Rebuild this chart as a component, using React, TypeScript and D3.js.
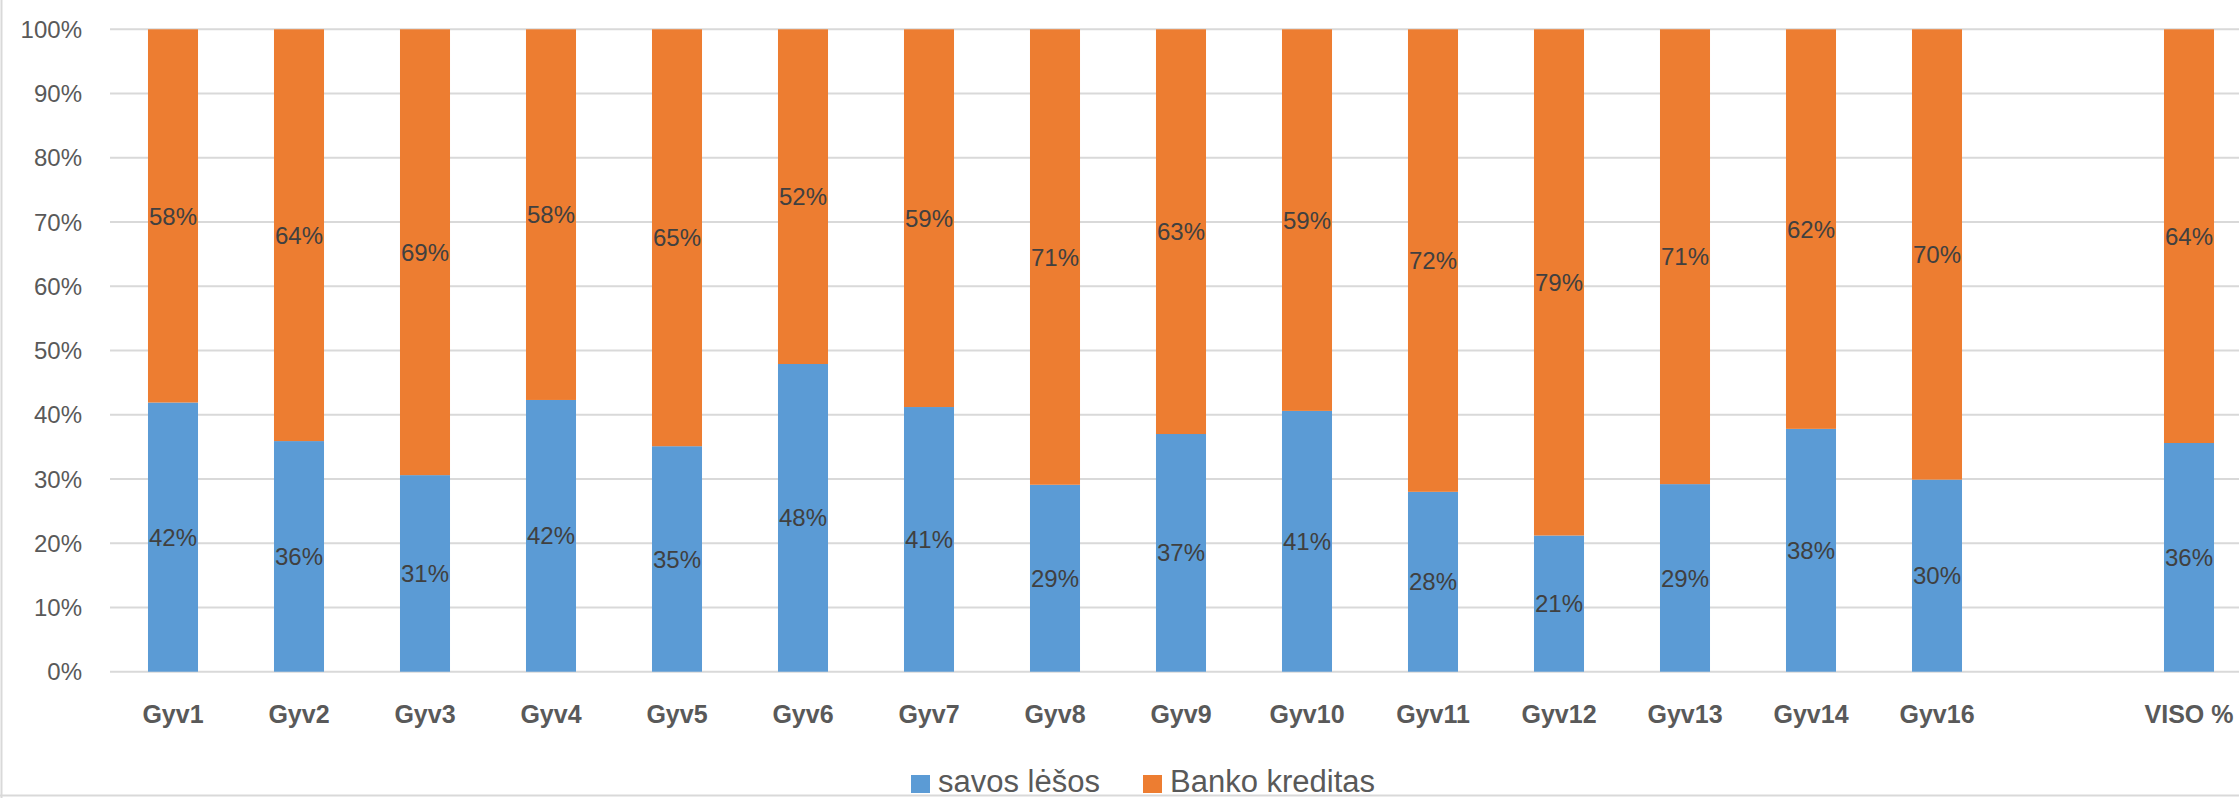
import * as React from "react";
import * as d3 from "d3";

// categories (one empty slot before the total, as in the original sheet)
const categories = [
  "Gyv1", "Gyv2", "Gyv3", "Gyv4", "Gyv5", "Gyv6", "Gyv7", "Gyv8", "Gyv9",
  "Gyv10", "Gyv11", "Gyv12", "Gyv13", "Gyv14", "Gyv16", "", "VISO %",
];
// own funds, %
const savosLesos = [
  41.9, 35.9, 30.6, 42.3, 35.1, 47.9, 41.2, 29.1, 37.0,
  40.6, 28.0, 21.2, 29.2, 37.8, 29.9, null, 35.6,
];
// bank credit, %
const bankoKreditas = [
  58.1, 64.1, 69.4, 57.7, 64.9, 52.1, 58.8, 70.9, 63.0,
  59.4, 72.0, 78.8, 70.8, 62.2, 70.1, null, 64.4,
];
const yTicks = [0, 10, 20, 30, 40, 50, 60, 70, 80, 90, 100];

const seriesNames = ["savos lėšos", "Banko kreditas"];
const colors = ["#5B9BD5", "#ED7D31"];

const W = 2239;
const H = 798;
const FONT = "'Liberation Sans', Arial, sans-serif";

export default function App() {
  const x = d3
    .scaleBand<string>()
    .domain(categories.map((c, i) => c || `_${i}`))
    .range([110, 2252])
    .paddingInner(0.603)
    .paddingOuter(0.3015);
  const y = d3.scaleLinear().domain([0, 100]).range([671.7, 29.3]);

  const rows = categories.map((c, i) => ({
    key: c || `_${i}`,
    savos: savosLesos[i],
    banko: bankoKreditas[i],
  }));
  const stack = d3
    .stack<any>()
    .keys(["savos", "banko"])
    .value((d, k) => d[k] ?? 0);
  const series = stack(rows);

  return (
    <svg
      width={W}
      height={H}
      style={{ position: "absolute", left: 0, top: 0, display: "block", background: "#fff" }}
      fontFamily={FONT}
    >
      <rect x={0} y={0} width={W} height={H} fill="#fff" />
      {/* chart border (left and bottom visible) */}
      <line x1={1.5} x2={1.5} y1={0} y2={H} stroke="#d9d9d9" strokeWidth={2} />
      <line x1={0} x2={W} y1={795.5} y2={795.5} stroke="#d9d9d9" strokeWidth={2} />

      {/* gridlines and y ticks */}
      {yTicks.map((t) => (
        <g key={t}>
          <line x1={110} x2={W} y1={y(t)} y2={y(t)} stroke="#d9d9d9" strokeWidth={2} />
          <text
            x={82}
            y={y(t)}
            dy="0.36em"
            textAnchor="end"
            fontSize={24}
            fill="#595959"
          >
            {t}%
          </text>
        </g>
      ))}

      {/* bars */}
      {series.map((s, si) => (
        <g key={s.key} fill={colors[si]}>
          {s.map((d, i) =>
            rows[i].savos == null ? null : (
              <rect
                key={i}
                x={x(rows[i].key)}
                y={y(d[1])}
                width={x.bandwidth()}
                height={y(d[0]) - y(d[1])}
              />
            )
          )}
        </g>
      ))}

      {/* data labels */}
      {series.map((s) => (
        <g key={"l" + s.key}>
          {s.map((d, i) => {
            const v = (rows[i] as any)[s.key];
            if (v == null) return null;
            return (
              <text
                key={i}
                x={(x(rows[i].key) as number) + x.bandwidth() / 2}
                y={y((d[0] + d[1]) / 2)}
                dy="0.36em"
                textAnchor="middle"
                fontSize={24}
                fill="#404040"
              >
                {d3.format(".0f")(v)}%
              </text>
            );
          })}
        </g>
      ))}

      {/* x labels */}
      {rows.map((r, i) => (
        <text
          key={"x" + i}
          x={(x(r.key) as number) + x.bandwidth() / 2}
          y={723}
          textAnchor="middle"
          fontSize={25}
          fontWeight="bold"
          fill="#595959"
        >
          {categories[i]}
        </text>
      ))}

      {/* legend */}
      {seriesNames.map((n, i) => {
        const lx = [911, 1143][i];
        return (
          <g key={n}>
            <rect x={lx} y={775} width={19} height={18} fill={colors[i]} />
            <text x={lx + 27} y={792} fontSize={31} fill="#595959">
              {n}
            </text>
          </g>
        );
      })}
    </svg>
  );
}
